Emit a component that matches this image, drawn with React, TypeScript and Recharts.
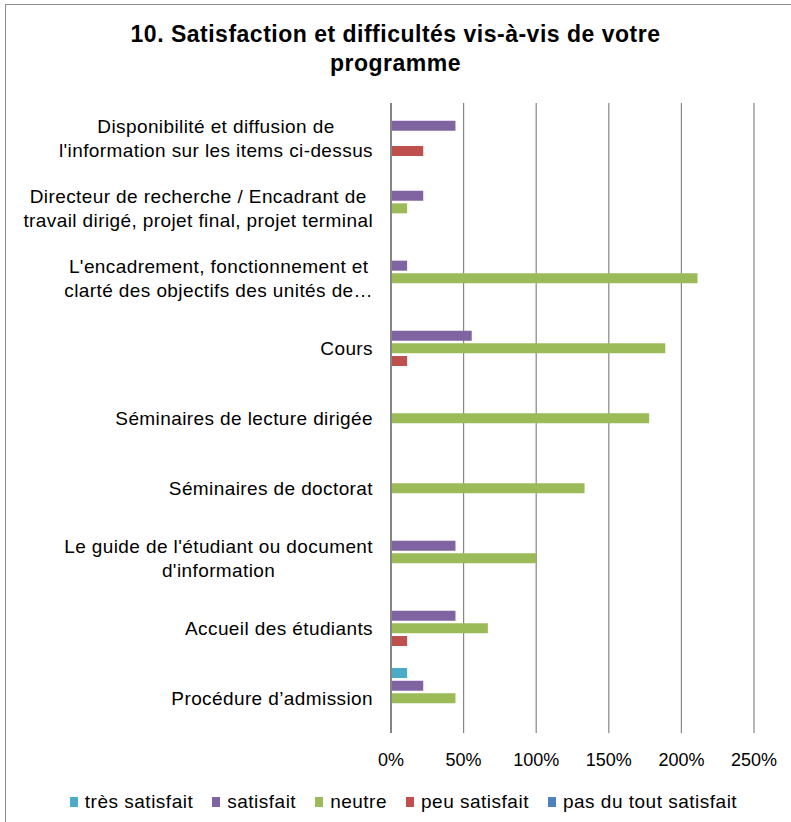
import React from "react"
import { BarChart, Bar, XAxis, YAxis, CartesianGrid } from "recharts"

const categories = [
  "Disponibilité et diffusion de\nl'information sur les items ci-dessus",
  "Directeur de recherche / Encadrant de\ntravail dirigé, projet final, projet terminal",
  "L'encadrement, fonctionnement et\nclarté des objectifs des unités de…",
  "Cours",
  "Séminaires de lecture dirigée",
  "Séminaires de doctorat",
  "Le guide de l'étudiant ou document\nd'information",
  "Accueil des étudiants",
  "Procédure d’admission",
]

const tresSatisfait = [0, 0, 0, 0, 0, 0, 0, 0, 11.1]
const satisfait = [44.4, 22.2, 11.1, 55.6, 0, 0, 44.4, 44.4, 22.2]
const neutre = [0, 11.1, 211.1, 188.9, 177.8, 133.3, 100, 66.7, 44.4]
const peuSatisfait = [22.2, 0, 0, 11.1, 0, 0, 0, 11.1, 0]
const pasDuTout = [0, 0, 0, 0, 0, 0, 0, 0, 0]

const xTicks = [0, 50, 100, 150, 200, 250]

const series = [
  { key: "tres", name: "très satisfait", color: "#4BACC6", values: tresSatisfait },
  { key: "sat", name: "satisfait", color: "#8064A2", values: satisfait },
  { key: "neu", name: "neutre", color: "#9BBB59", values: neutre },
  { key: "peu", name: "peu satisfait", color: "#C0504D", values: peuSatisfait },
  { key: "pas", name: "pas du tout satisfait", color: "#4F81BD", values: pasDuTout },
]

const data = categories.map((name, i) => {
  const row: Record<string, string | number> = { name }
  series.forEach((s) => (row[s.key] = s.values[i]))
  return row
})

const FONT = "'Liberation Sans', Arial, sans-serif"
const LABEL_SIZE = 19
const LABEL_SPACING = 0.4

let ctx: CanvasRenderingContext2D | null = null
function measure(text: string) {
  if (!ctx) ctx = document.createElement("canvas").getContext("2d")
  if (!ctx) return text.length * 9
  ctx.font = `${LABEL_SIZE}px 'Liberation Sans'`
  return ctx.measureText(text).width + text.length * LABEL_SPACING
}

// lines centred on each other, block right-aligned against the axis
function CategoryTick({ x, y, payload }: any) {
  const lines = String(payload.value).split("\n")
  const w = Math.max(...lines.map(measure))
  const cx = x - w / 2
  const lh = 24
  const y0 = y - ((lines.length - 1) * lh) / 2
  return (
    <text fontFamily={FONT} fontSize={LABEL_SIZE} letterSpacing={LABEL_SPACING} fill="#000" textAnchor="middle">
      {lines.map((l, i) => (
        <tspan key={i} x={cx} y={y0 + i * lh} dy="0.35em">
          {l}
        </tspan>
      ))}
    </text>
  )
}

export default function App() {
  return (
    <div style={{ position: "absolute", left: 0, top: 0, width: 791, height: 822, background: "#fff", fontFamily: FONT }}>
      <div style={{ position: "absolute", left: 5, top: 4, right: 0, bottom: 0, borderLeft: "1px solid #8c8c8c", borderTop: "1px solid #8c8c8c" }} />
      <div
        style={{
          position: "absolute",
          top: 20,
          left: 0,
          width: 791,
          textAlign: "center",
          fontWeight: "bold",
          fontSize: 23,
          letterSpacing: 0.5,
          lineHeight: "29px",
        }}
      >
        10. Satisfaction et difficultés vis-à-vis de votre
        <br />
        programme
      </div>
      <BarChart
        width={791}
        height={822}
        data={data}
        layout="vertical"
        margin={{ top: 103, right: 37, left: 0, bottom: 0 }}
        barSize={10}
        barGap={2.67}
        style={{ position: "absolute", left: 0, top: 0 }}
      >
        <CartesianGrid horizontal={false} stroke="#868686" strokeWidth={1.2} />
        <XAxis
          type="number"
          domain={[0, 250]}
          ticks={xTicks}
          tickFormatter={(v) => `${v}%`}
          axisLine={false}
          tickLine={false}
          tick={{ fontSize: 18, fill: "#000", fontFamily: FONT }}
          tickMargin={14}
          height={89}
          interval={0}
        />
        <YAxis
          type="category"
          dataKey="name"
          width={391}
          tick={<CategoryTick />}
          tickSize={0}
          tickMargin={18}
          axisLine={{ stroke: "#868686", strokeWidth: 2 }}
          tickLine={false}
          interval={0}
        />
        {series.map((s) => (
          <Bar key={s.key} dataKey={s.key} name={s.name} fill={s.color} isAnimationActive={false} />
        ))}
      </BarChart>
      <div
        style={{
          position: "absolute",
          top: 791,
          left: 8,
          width: 791,
          display: "flex",
          justifyContent: "center",
          gap: 19,
          fontSize: 19,
          letterSpacing: 0.5,
          lineHeight: "22px",
        }}
      >
        {series.map((s) => (
          <div key={s.key} style={{ display: "flex", alignItems: "center" }}>
            <span style={{ display: "inline-block", width: 8, height: 10, background: s.color, marginRight: 7 }} />
            {s.name}
          </div>
        ))}
      </div>
    </div>
  )
}
